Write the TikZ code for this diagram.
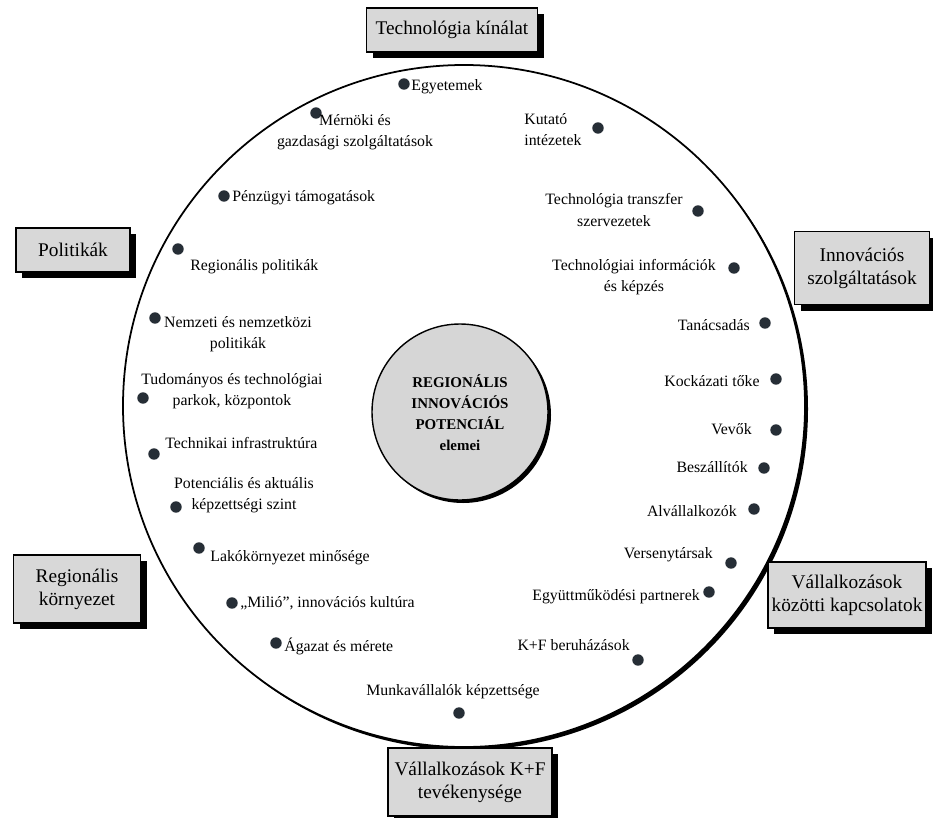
\documentclass[tikz,border=0pt]{standalone}
\usepackage{fontspec}
\setmainfont{Liberation Serif}
\usepackage{tikz}
\usetikzlibrary{shadows}
\definecolor{dobozszurke}{RGB}{216,216,216}
\definecolor{magszurke}{RGB}{214,214,214}
\definecolor{pontszin}{RGB}{38,46,54}

\begin{document}
\begin{tikzpicture}[x=0.02cm,y=-0.02cm,
		doboz/.style={draw,line width=1.1pt,fill=dobozszurke,align=center,inner sep=2pt,
			font=\fontsize{11}{13}\selectfont,
			drop shadow={shadow xshift=3.5pt,shadow yshift=-3.5pt,fill=black,opacity=1}},
		pont/.style={circle,fill=pontszin,inner sep=0pt,minimum size=6.5pt},
		elem/.style={inner sep=0pt,font=\fontsize{9}{12}\selectfont}]
			\useasboundingbox (0,0) rectangle (933,818);
			% nagy kor
			\fill[black] (467,409) circle (341);
			\filldraw[fill=white,line width=1pt] (464,406) circle (341);
			% kozepso kor
			\fill[black] (463,415) circle (88);
			\filldraw[fill=magszurke,line width=0.8pt] (460,412) circle (88);
			\node[align=center,inner sep=0pt,font=\bfseries\fontsize{8.5}{12}\selectfont] (kozep) at (460,413)
				{REGIONÁLIS\\INNOVÁCIÓS\\POTENCIÁL\\elemei};
			% dobozok
			\node[doboz,minimum width=3.42cm,minimum height=0.88cm] (techkin) at (452,30) {Technológia kínálat};
			\node[doboz,minimum width=2.28cm,minimum height=0.88cm] (polit) at (73,250) {Politikák};
			\node[doboz,minimum width=2.7cm,minimum height=1.46cm] (innszolg) at (862,268) {Innovációs\\szolgáltatások};
			\node[doboz,minimum width=2.54cm,minimum height=1.36cm] (regkorny) at (77,589) {Regionális\\környezet};
			\node[doboz,minimum width=3.0cm,minimum height=1.32cm] (vallkapcs) at (847,595) {Vállalkozások\\közötti kapcsolatok};
			\node[doboz,minimum width=3.28cm,minimum height=1.36cm] (vallkf) at (470,782) {Vállalkozások K+F\\tevékenysége};
			% elemek, felso resz
			\node[pont] (egyet) at (404,84) {};
			\node[elem,anchor=west] (egyett) at (411,87) {Egyetemek};
			\node[pont] (mern) at (316,113) {};
			\node[elem,align=center] (mernt) at (355,132) {Mérnöki és\\gazdasági szolgáltatások};
			\node[pont] (penz) at (224,196) {};
			\node[elem,anchor=west] (penzt) at (232,198) {Pénzügyi támogatások};
			\node[pont] (kut) at (598,128) {};
			\node[elem,align=left,anchor=north west] (kutt) at (524,113) {Kutató\\intézetek};
			\node[pont] (transz) at (698,211) {};
			\node[elem,align=center] (transzt) at (614,210) {Technológia transzfer\\szervezetek};
			\node[pont] (info) at (734,268) {};
			\node[elem,align=center] (infot) at (634,277) {Technológiai információk\\és képzés};
			% elemek, jobb oldal
			\node[pont] (tan) at (765,323) {};
			\node[elem,anchor=east] (tant) at (750,325) {Tanácsadás};
			\node[pont] (kock) at (776,379) {};
			\node[elem,anchor=east] (kockt) at (760,381) {Kockázati tőke};
			\node[pont] (vev) at (776,430) {};
			\node[elem,anchor=east] (vevt) at (752,429) {Vevők};
			\node[pont] (besz) at (764,468) {};
			\node[elem,anchor=east] (beszt) at (748,467) {Beszállítók};
			\node[pont] (alv) at (754,509) {};
			\node[elem,anchor=east] (alvt) at (737,511) {Alvállalkozók};
			\node[pont] (vers) at (731,563) {};
			\node[elem,anchor=east] (verst) at (713,555) {Versenytársak};
			\node[pont] (egyutt) at (709,592) {};
			\node[elem,anchor=east] (egyuttt) at (700,597) {Együttműködési partnerek};
			\node[pont] (kfber) at (638,660) {};
			\node[elem,anchor=east] (kfbert) at (630,645) {K+F beruházások};
			\node[pont] (munk) at (459,713) {};
			\node[elem] (munkt) at (453,692) {Munkavállalók képzettsége};
			% elemek, bal oldal
			\node[pont] (regpol) at (178,249) {};
			\node[elem,anchor=west] (regpolt) at (190,267) {Regionális politikák};
			\node[pont] (nemz) at (155,318) {};
			\node[elem,align=center] (nemzt) at (238,334) {Nemzeti és nemzetközi\\politikák};
			\node[pont] (tud) at (143,398) {};
			\node[elem,align=center] (tudt) at (232,391) {Tudományos és technológiai\\parkok, központok};
			\node[pont] (infra) at (154,454) {};
			\node[elem,anchor=west] (infrat) at (165,443) {Technikai infrastruktúra};
			\node[pont] (pot) at (176,507) {};
			\node[elem,align=center] (pott) at (244,495) {Potenciális és aktuális\\képzettségi szint};
			\node[pont] (lako) at (199,548) {};
			\node[elem,anchor=west] (lakot) at (210,558) {Lakókörnyezet minősége};
			\node[pont] (milio) at (232,603) {};
			\node[elem,anchor=west] (miliot) at (240,603) {„Milió”, innovációs kultúra};
			\node[pont] (agaz) at (276,643) {};
			\node[elem,anchor=west] (agazt) at (284,646) {Ágazat és mérete};
		\end{tikzpicture}
\end{document}
